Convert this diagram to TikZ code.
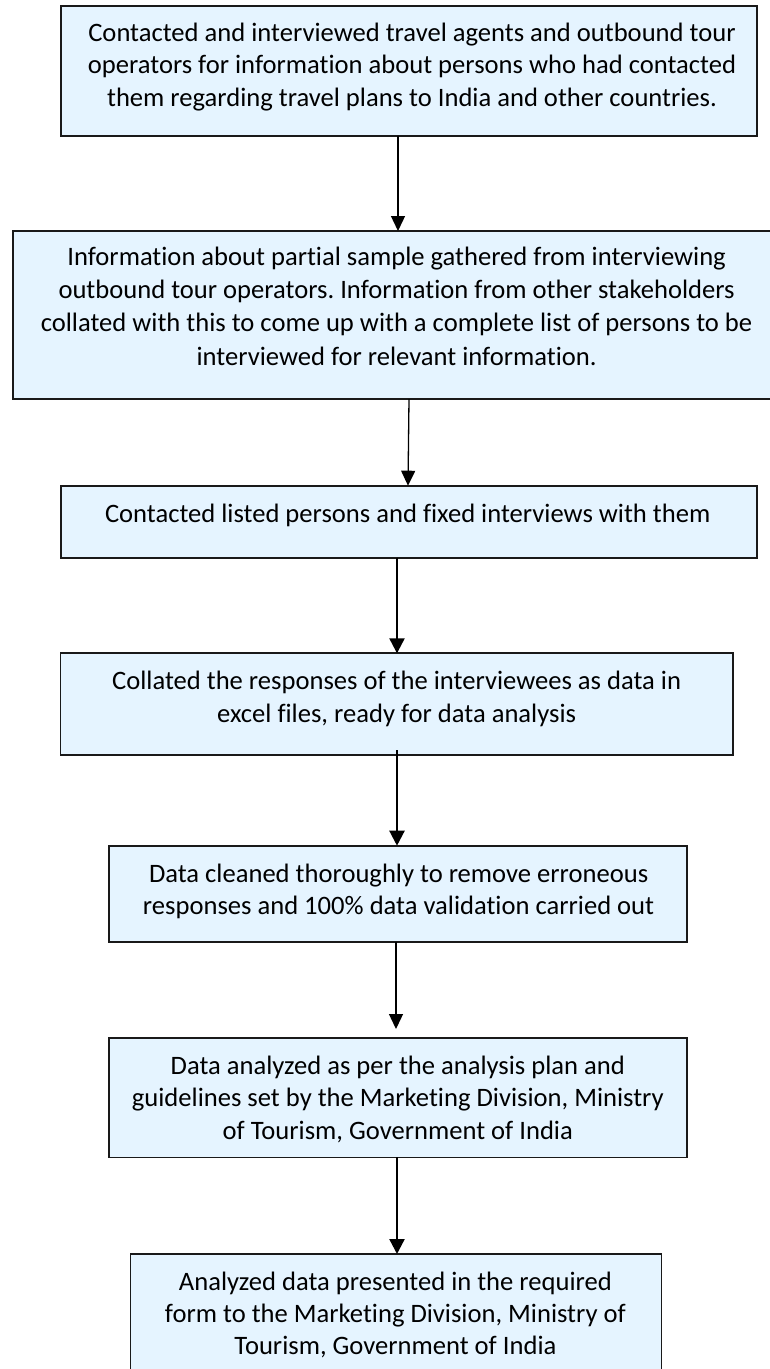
\documentclass[tikz,border=0pt]{standalone}
\usepackage{fontspec}
\setmainfont{Carlito}[Ligatures=NoCommon]
\usetikzlibrary{arrows.meta}
\definecolor{boxfill}{RGB}{229,244,255}
\definecolor{boxline}{RGB}{25,25,25}
\newcommand{\firststrut}{\rule{0pt}{25pt}}
\frenchspacing
\begin{document}
\begin{tikzpicture}[x=1pt,y=-1pt,
  stepbox/.style={draw=boxline, fill=boxfill, line width=1.7pt, inner sep=0pt, outer sep=0pt, anchor=north west},
  txt/.style={inner sep=0pt, outer sep=0pt, align=center, anchor=north, text=black},
  thinarr/.style={line width=1.3pt, -{Triangle[length=15pt,width=14pt]}},
  thickarr/.style={line width=2.3pt, -{Triangle[length=15pt,width=15pt]}}]
\useasboundingbox (0,0) rectangle (770,1369);
% boxes
\node[stepbox, minimum width=696pt, minimum height=130pt] (b1) at (60.7,5.7) {};
\node[stepbox, minimum width=768pt, minimum height=168pt] (b2) at (12.7,231) {};
\node[stepbox, minimum width=696pt, minimum height=72pt] (b3) at (60.7,485.7) {};
\node[stepbox, minimum width=672.3pt, minimum height=101.7pt] (b4) at (60.4,653.3) {};
\node[stepbox, minimum width=578pt, minimum height=96.1pt] (b5) at (109,845.7) {};
\node[stepbox, minimum width=578pt, minimum height=119.6pt] (b6) at (109,1037.8) {};
\node[stepbox, minimum width=531pt, minimum height=140pt] (b7) at (130.5,1254) {};
% texts
\node[txt, font=\fontsize{26.6pt}{32.5pt}\selectfont] (t1) at (412,16) {\firststrut Contacted and interviewed travel agents and outbound tour\\operators for information about persons who had contacted\\them regarding travel plans to India and other countries.};
\node[txt, font=\fontsize{26.6pt}{33.1pt}\selectfont] (t2) at (396.6,240.7) {\firststrut Information about partial sample gathered from interviewing\\outbound tour operators. Information from other stakeholders\\collated with this to come up with a complete list of persons to be\\interviewed for relevant information.};
\node[txt, font=\fontsize{26.6pt}{32.5pt}\selectfont] (t3) at (407.7,497.3) {\firststrut Contacted listed persons and fixed interviews with them};
\node[txt, font=\fontsize{26.6pt}{33.3pt}\selectfont] (t4) at (396.6,664) {\firststrut Collated the responses of the interviewees as data in\\excel files, ready for data analysis};
\node[txt, font=\fontsize{26.6pt}{31.7pt}\selectfont] (t5) at (398.6,857.3) {\firststrut Data cleaned thoroughly to remove erroneous\\responses and 100\% data validation carried out};
\node[txt, font=\fontsize{26.6pt}{32.5pt}\selectfont] (t6) at (397.8,1049) {\firststrut Data analyzed as per the analysis plan and\\guidelines set by the Marketing Division, Ministry\\of Tourism, Government of India};
\node[txt, font=\fontsize{26.6pt}{31.7pt}\selectfont] (t7) at (395.4,1265.7) {\firststrut Analyzed data presented in the required\\form to the Marketing Division, Ministry of\\Tourism, Government of India};
% arrow x positions
\coordinate (x1) at (398,0);
\coordinate (x2a) at (409,0);
\coordinate (x2b) at (408,0);
\coordinate (x3) at (397,0);
\coordinate (x4) at (397,0);
\coordinate (x5) at (396,0);
\coordinate (x6) at (397,0);
% connectors
\draw[thinarr] (b1.south -| x1) -- (b2.north -| x1);
\draw[thinarr] (b2.south -| x2a) -- (b3.north -| x2b);
\draw[thickarr] (b3.south -| x3) -- (b4.north -| x3);
\draw[thickarr] ([yshift=5pt]b4.south -| x4) -- (b5.north -| x4);
\draw[thinarr] (b5.south -| x5) -- ([yshift=8.8pt]b6.north -| x5);
\draw[thickarr] (b6.south -| x6) -- (b7.north -| x6);
\end{tikzpicture}
\end{document}
